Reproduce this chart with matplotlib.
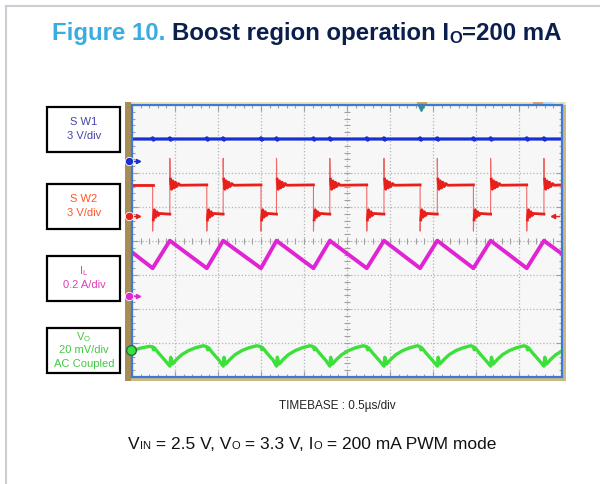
import matplotlib
matplotlib.use('Agg')
import matplotlib.pyplot as plt
from matplotlib.patches import Rectangle
import numpy as np

plt.rcParams['font.family'] = ['Liberation Sans', 'DejaVu Sans']

# screen: 10 div x 0.5 us, 8 vertical div (levels below are in div from bottom)
x_max_us = 5.0
y_max_div = 8.0

# SW2 edges (us)
sw2_fall_us = [0.24, 0.87, 1.50, 2.11, 2.73, 3.35, 3.97, 4.59]
sw2_rise_us = [0.44, 1.06, 1.68, 2.30, 2.93, 3.55, 4.17, 4.79]

sw1_level = 7.0
sw1_blip = 0.035

sw2_high = 5.65
sw2_low = 4.79
sw2_spike_hi = 6.43
sw2_spike_lo = 4.29
# ringing just after each edge (offset us, level div)
sw2_ring_rise_dt = [0.008, 0.02, 0.035, 0.05, 0.065, 0.08, 0.10, 0.12]
sw2_ring_rise_v = [5.82, 5.52, 5.77, 5.56, 5.73, 5.60, 5.69, 5.64]
sw2_ring_fall_dt = [0.008, 0.02, 0.035, 0.05, 0.065, 0.08]
sw2_ring_fall_v = [4.62, 4.92, 4.70, 4.86, 4.75, 4.81]

il_start = 3.67
il_valley = 3.20
il_peak = 4.01
il_end = 3.62

vo_start_t = [0.0, 0.10, 0.20]
vo_start_v = [0.77, 0.85, 0.90]
vo_after_fall_dt = [0.0, 0.01, 0.02, 0.07, 0.14]
vo_after_fall_v = [0.89, 0.80, 0.86, 0.70, 0.50]
vo_after_rise_dt = [0.0, 0.01, 0.03, 0.08, 0.14, 0.22, 0.30, 0.39]
vo_after_rise_v = [0.32, 0.58, 0.38, 0.52, 0.66, 0.78, 0.86, 0.92]

# channel ground markers (div)
markers = {'SW1': 6.35, 'SW2': 4.74, 'IL': 2.38, 'VO': 0.79}

c_sw1 = '#1a2fd0'
c_sw2 = '#e8201c'
c_il = '#e024d4'
c_vo = '#3de03a'

fig = plt.figure(figsize=(6, 4.84), dpi=100)
bg = fig.add_axes([0, 0, 1, 1])
bg.set_xlim(0, 600)
bg.set_ylim(484, 0)
bg.axis('off')

# card border
bg.plot([6, 6], [484, 6], color='#c9ced4', lw=1.5)
bg.plot([6, 600], [6, 6], color='#c9ced4', lw=1.5)

# scope bezel
bg.add_patch(Rectangle((125, 102), 441, 279, fc='#cbb983', ec='none'))
bg.add_patch(Rectangle((125, 102), 6, 279, fc='#a68d55', ec='none'))
bg.add_patch(Rectangle((131, 101.5), 435, 3.5, fc='#ece4b8', ec='none'))
bg.add_patch(Rectangle((417, 101.5), 10, 2.5, fc='#d99c55', ec='none'))
bg.add_patch(Rectangle((533, 101.5), 10, 2.5, fc='#e0a060', ec='none'))
bg.add_patch(Rectangle((543, 101.5), 10, 2.5, fc='#aee2f2', ec='none'))

ax = fig.add_axes([132 / 600, (484 - 377) / 484, 430 / 600, 272 / 484])
ax.set_facecolor('#f7f7f7')
ax.set_xlim(0, x_max_us)
ax.set_ylim(0, y_max_div)
ax.set_xticks(np.arange(0, x_max_us + 0.01, 0.5))
ax.set_yticks(np.arange(0, y_max_div + 0.01, 1))
ax.set_xticks(np.arange(0, x_max_us + 0.01, 0.1), minor=True)
ax.set_yticks(np.arange(0, y_max_div + 0.01, 0.2), minor=True)
ax.tick_params(which='both', direction='in', top=True, right=True,
               labelbottom=False, labelleft=False, color='#a0a0a0', width=0.8)
ax.tick_params(which='major', length=4)
ax.tick_params(which='minor', length=2.5)
ax.grid(True, which='major', ls=':', color='#b4b4b4', lw=0.9)
for s in ax.spines.values():
    s.set_color('#3d7ad6')
    s.set_linewidth(1.6)

# center cross ticks
cx = np.arange(0, x_max_us + 0.01, 0.1)
cy = np.arange(0, y_max_div + 0.01, 0.2)
ax.plot(cx, [y_max_div / 2] * len(cx), ls='none', marker='|', ms=4, mew=0.8, color='#a0a0a0')
ax.plot([x_max_us / 2] * len(cy), cy, ls='none', marker='_', ms=4, mew=0.8, color='#a0a0a0')

# SW1
t1, v1 = [0.0], [sw1_level]
for t in sorted(sw2_fall_us + sw2_rise_us):
    t1 += [t - 0.01, t, t + 0.01, t + 0.02]
    v1 += [sw1_level, sw1_level + sw1_blip, sw1_level - sw1_blip, sw1_level]
t1.append(x_max_us)
v1.append(sw1_level)
ax.plot(t1, v1, color=c_sw1, lw=2.3)

# SW2: thin edges + spikes, thick flat levels
t2, v2 = [0.0], [sw2_high]
for tf, tr in zip(sw2_fall_us, sw2_rise_us):
    t2 += [tf, tf, tf + 0.005]
    v2 += [sw2_high, sw2_spike_lo, sw2_low]
    t2 += [tr, tr, tr + 0.005]
    v2 += [sw2_low, sw2_spike_hi, sw2_high]
t2.append(x_max_us)
v2.append(sw2_high)
ax.plot(t2, v2, color='#f06a6a', lw=0.8)

starts = [0.0] + sw2_rise_us
ends = sw2_fall_us + [x_max_us]
for a, b in zip(starts, ends):
    tt, vv = [a], [sw2_high]
    if a > 0:
        tt = [a + d for d in sw2_ring_rise_dt]
        vv = list(sw2_ring_rise_v)
    ax.plot(tt + [b], vv + [sw2_high], color=c_sw2, lw=2.0)
for a, b in zip(sw2_fall_us, sw2_rise_us):
    tt = [a + d for d in sw2_ring_fall_dt]
    ax.plot(tt + [b], list(sw2_ring_fall_v) + [sw2_low], color=c_sw2, lw=2.0)

# IL triangle
ti = [0.0]
vi = [il_start]
for tf, tr in zip(sw2_fall_us, sw2_rise_us):
    ti += [tf, tr]
    vi += [il_valley, il_peak]
ti.append(x_max_us)
vi.append(il_end)
ax.plot(ti, vi, color=c_il, lw=2.8)

# Vo ripple
tv, vv = list(vo_start_t), list(vo_start_v)
for tf, tr in zip(sw2_fall_us, sw2_rise_us):
    tv += [tf + d for d in vo_after_fall_dt]
    vv += vo_after_fall_v
    tv += [tr + d for d in vo_after_rise_dt]
    vv += vo_after_rise_v
ax.plot(tv, vv, color=c_vo, lw=2.4)

# channel markers
for key, col in [('SW1', c_sw1), ('SW2', c_sw2), ('IL', c_il)]:
    lv = markers[key]
    ax.plot([-0.02, 0.07], [lv, lv], color=col, lw=1, clip_on=False, zorder=6)
    ax.plot(0.07, lv, marker='>', ms=3, color=col, clip_on=False, zorder=6)
    ax.plot(-0.035, lv, marker='o', ms=6, color=col, mec='white', mew=0.6,
            clip_on=False, zorder=7)
ax.plot(-0.01, markers['VO'], marker='o', ms=7, color=c_vo, mec='#1f6e4a', mew=1.0,
        clip_on=False, zorder=7)
ax.plot([4.90, 4.97], [markers['SW2'], markers['SW2']], color=c_sw2, lw=1)
ax.plot(4.90, markers['SW2'], marker='<', ms=3, color=c_sw2)
ax.plot(3.36, 7.9, marker='v', ms=5, color='#2a8f9a', clip_on=False, zorder=6)

# label boxes
boxes = [
    (107, 'S W1', '3 V/div', None, '#4444a8'),
    (184, 'S W2', '3 V/div', None, '#ff5526'),
    (256, r'I$_\mathregular{L}$', '0.2 A/div', None, '#e23fb8'),
    (328, r'V$_\mathregular{O}$', '20 mV/div', 'AC Coupled', '#45c845'),
]
for top, l1, l2, l3, col in boxes:
    bg.add_patch(Rectangle((47, top), 73, 45, fill=False, ec='black', lw=1.6))
    if l3 is None:
        bg.text(84, top + 15, l1, color=col, fontsize=8, ha='center', va='center')
        bg.text(84, top + 29, l2, color=col, fontsize=8, ha='center', va='center')
    else:
        bg.text(84, top + 9, l1, color=col, fontsize=8, ha='center', va='center')
        bg.text(84, top + 22, l2, color=col, fontsize=8, ha='center', va='center')
        bg.text(84, top + 36, l3, color=col, fontsize=8, ha='center', va='center')

renderer = fig.canvas.get_renderer()


def draw_pieces(x, y, pieces):
    for text, size, color, weight, dy in pieces:
        t = bg.text(x, y + dy, text, fontsize=size, color=color, fontweight=weight,
                    ha='left', va='baseline')
        x += t.get_window_extent(renderer).width


navy = '#0b1f4f'
draw_pieces(52, 40, [
    ('Figure 10. ', 17.3, '#3aade0', 'bold', 0),
    ('Boost region operation I', 17.3, navy, 'bold', 0),
    ('O', 12, navy, 'bold', 3),
    ('=200 mA', 17.3, navy, 'bold', 0),
])

bg.text(337, 406, 'TIMEBASE : 0.5\u00b5s/div', fontsize=8.5, color='#222222',
        ha='center', va='center')

draw_pieces(128, 449, [
    ('V', 12.5, '#111111', 'normal', 0),
    ('IN', 8, '#111111', 'normal', 0),
    (' = 2.5 V, V', 12.5, '#111111', 'normal', 0),
    ('O', 8, '#111111', 'normal', 0),
    (' = 3.3 V, I', 12.5, '#111111', 'normal', 0),
    ('O', 8, '#111111', 'normal', 0),
    (' = 200 mA PWM mode', 12.5, '#111111', 'normal', 0),
])

fig.savefig('out.png', dpi=100)
